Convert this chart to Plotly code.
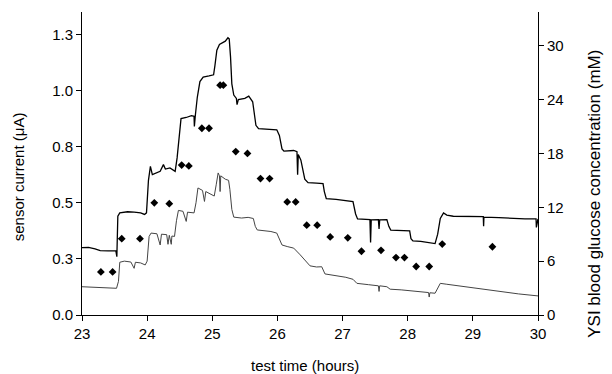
import plotly.graph_objects as go

# Sensor 1 (upper trace) : time (h), current (uA)
s1_time = [23.00, 23.10, 23.20, 23.28, 23.40, 23.52, 23.535, 23.55, 23.58, 23.70, 23.80, 23.90, 23.96, 23.99,
           24.02, 24.05, 24.08, 24.12, 24.20, 24.25, 24.28, 24.35, 24.43, 24.46, 24.49, 24.52, 24.60, 24.68,
           24.72, 24.725, 24.74, 24.77, 24.81, 24.86, 24.95, 25.02, 25.04, 25.07, 25.11, 25.20, 25.24, 25.26,
           25.28, 25.30, 25.33, 25.37, 25.38, 25.40, 25.50, 25.56, 25.62, 25.67, 25.71, 25.85, 25.99, 26.03,
           26.07, 26.10, 26.25, 26.30, 26.31, 26.32, 26.36, 26.42, 26.47, 26.60, 26.70, 26.72, 26.75, 26.90,
           27.10, 27.16, 27.20, 27.23, 27.42, 27.43, 27.44, 27.55, 27.56, 27.57, 27.68, 27.71, 27.74, 27.90,
           28.03, 28.05, 28.08, 28.20, 28.35, 28.42, 28.46, 28.50, 28.55, 28.60, 28.70, 28.90, 29.16, 29.165,
           29.17, 29.40, 29.60, 29.80, 29.97, 29.975, 30.00]
s1_current = [0.300, 0.301, 0.295, 0.287, 0.286, 0.286, 0.260, 0.440, 0.455, 0.460, 0.458, 0.455, 0.448, 0.455,
              0.600, 0.662, 0.625, 0.630, 0.640, 0.670, 0.650, 0.655, 0.640, 0.700, 0.800, 0.875, 0.880, 0.888,
              0.885, 0.840, 0.890, 0.970, 1.040, 1.060, 1.065, 1.070, 1.110, 1.180, 1.205, 1.220, 1.235, 1.230,
              1.150, 1.030, 0.980, 0.965, 0.937, 0.960, 0.965, 0.975, 0.950, 0.845, 0.830, 0.828, 0.825, 0.800,
              0.740, 0.730, 0.733, 0.728, 0.625, 0.715, 0.690, 0.605, 0.590, 0.588, 0.585, 0.550, 0.518, 0.515,
              0.508, 0.505, 0.450, 0.428, 0.425, 0.323, 0.424, 0.425, 0.383, 0.424, 0.425, 0.395, 0.378, 0.376,
              0.375, 0.340, 0.330, 0.328, 0.322, 0.318, 0.360, 0.430, 0.455, 0.445, 0.440, 0.440, 0.438, 0.395,
              0.436, 0.434, 0.430, 0.428, 0.428, 0.390, 0.428]

# Sensor 2 (lower trace)
s2_time = [23.00, 23.20, 23.40, 23.53, 23.56, 23.58, 23.65, 23.75, 23.80, 23.82, 23.90, 23.97, 24.00, 24.03,
           24.06, 24.15, 24.20, 24.22, 24.30, 24.32, 24.34, 24.37, 24.38, 24.42, 24.45, 24.48, 24.55, 24.60,
           24.62, 24.72, 24.75, 24.78, 24.85, 24.88, 24.90, 25.00, 25.03, 25.06, 25.09, 25.11, 25.12, 25.13,
           25.20, 25.25, 25.27, 25.30, 25.33, 25.45, 25.55, 25.63, 25.66, 25.69, 25.80, 25.90, 25.99, 26.03,
           26.07, 26.15, 26.25, 26.35, 26.45, 26.50, 26.60, 26.68, 26.73, 26.90, 27.05, 27.16, 27.22, 27.40,
           27.55, 27.56, 27.57, 27.68, 27.73, 27.90, 28.04, 28.20, 28.32, 28.33, 28.34, 28.42, 28.46, 28.50,
           28.60, 28.75, 28.90, 29.10, 29.41, 29.70, 30.00]
s2_current = [0.126, 0.124, 0.120, 0.119, 0.150, 0.235, 0.240, 0.236, 0.208, 0.235, 0.232, 0.223, 0.240, 0.350,
              0.365, 0.362, 0.312, 0.360, 0.358, 0.315, 0.355, 0.315, 0.352, 0.350, 0.420, 0.466, 0.462, 0.417,
              0.458, 0.455, 0.500, 0.566, 0.555, 0.506, 0.550, 0.537, 0.530, 0.580, 0.633, 0.620, 0.550, 0.620,
              0.605, 0.600, 0.560, 0.470, 0.436, 0.432, 0.435, 0.430, 0.395, 0.379, 0.375, 0.372, 0.365, 0.340,
              0.312, 0.305, 0.298, 0.268, 0.232, 0.219, 0.214, 0.215, 0.183, 0.175, 0.168, 0.159, 0.141, 0.135,
              0.130, 0.105, 0.130, 0.126, 0.115, 0.112, 0.109, 0.103, 0.100, 0.080, 0.099, 0.097, 0.120, 0.141,
              0.137, 0.131, 0.124, 0.116, 0.104, 0.094, 0.085]

# YSI reference glucose (mM)
ysi_time = [23.29, 23.47, 23.61, 23.89, 24.11, 24.34, 24.53, 24.64, 24.84, 24.95, 25.12, 25.17, 25.36, 25.54,
            25.74, 25.88, 26.15, 26.28, 26.45, 26.61, 26.81, 27.08, 27.29, 27.59, 27.82, 27.95, 28.13, 28.33,
            28.53, 29.30]
ysi_glucose = [4.8, 4.8, 8.5, 8.5, 12.5, 12.4, 16.7, 16.6, 20.8, 20.8, 25.6, 25.6, 18.2, 18.0,
               15.2, 15.2, 12.6, 12.6, 10.0, 10.0, 8.7, 8.6, 7.1, 7.2, 6.4, 6.4, 5.4, 5.4,
               7.9, 7.6]

left_tickvals = [0.0, 0.25, 0.5, 0.75, 1.0, 1.25]
left_ticktext = ["0.0", "0.3", "0.5", "0.8", "1.0", "1.3"]
right_tickvals = [0, 6, 12, 18, 24, 30]
x_tickvals = [23, 24, 25, 26, 27, 28, 29, 30]

FONT = "Arial, 'Liberation Sans', sans-serif"

fig = go.Figure()
fig.add_trace(go.Scatter(x=s1_time, y=s1_current, mode="lines",
                         line=dict(color="black", width=1.3), showlegend=False))
fig.add_trace(go.Scatter(x=s2_time, y=s2_current, mode="lines",
                         line=dict(color="#444444", width=1), showlegend=False))
fig.add_trace(go.Scatter(x=ysi_time, y=ysi_glucose, mode="markers", yaxis="y2",
                         marker=dict(symbol="diamond", size=6, color="black"), showlegend=False))

axis_common = dict(showgrid=False, zeroline=False, showline=True, linecolor="black", linewidth=1,
                   ticks="outside", ticklen=5, tickcolor="black", tickwidth=1,
                   tickfont=dict(family=FONT, size=15, color="black"))

fig.update_layout(
    width=612, height=374,
    margin=dict(l=82, r=74, t=12, b=59),
    paper_bgcolor="white", plot_bgcolor="white",
    xaxis=dict(range=[23, 30], tickvals=x_tickvals, **axis_common),
    yaxis=dict(range=[0, 1.35], tickvals=left_tickvals, ticktext=left_ticktext, **axis_common),
    yaxis2=dict(range=[0, 33.75], tickvals=right_tickvals, overlaying="y", side="right", **axis_common),
    annotations=[
        dict(text="sensor current (\u03bcA)", xref="paper", yref="paper", x=-0.14, y=0.455,
             textangle=-90, showarrow=False, xanchor="center", yanchor="middle",
             font=dict(family=FONT, size=15, color="black")),
        dict(text="YSI blood glucose concentration (mM)", xref="paper", yref="paper", x=1.125, y=0.40,
             textangle=-90, showarrow=False, xanchor="center", yanchor="middle",
             font=dict(family=FONT, size=17, color="black")),
        dict(text="test time (hours)", xref="paper", yref="paper", x=0.49, y=-0.168,
             showarrow=False, xanchor="center", yanchor="middle",
             font=dict(family=FONT, size=15, color="black")),
    ],
)

fig.write_html("out.html")
